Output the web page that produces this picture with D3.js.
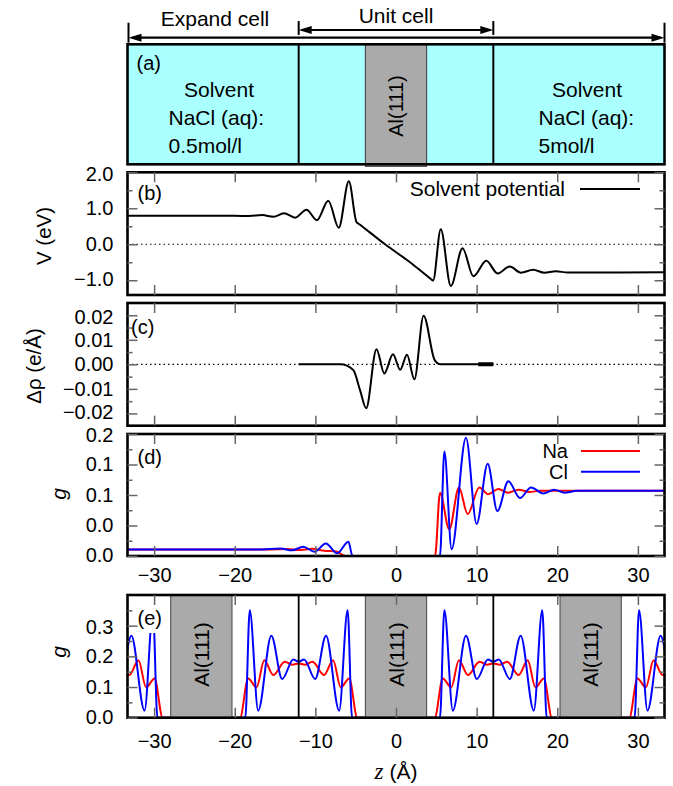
<!DOCTYPE html>
<html>
<head>
<meta charset="utf-8">
<script src="https://cdnjs.cloudflare.com/ajax/libs/d3/7.8.5/d3.min.js"></script>
<style>
	body { margin: 0; background: #fff; }
	text { font-family: "Liberation Sans", Arial, Helvetica, sans-serif; fill: #000; }
	.frame { fill: none; stroke: #000; stroke-width: 2.6px; }
	.zero { stroke: #000; stroke-width: 1.2px; stroke-dasharray: 1.5,3; }
	.curve { fill: none; stroke-width: 2px; }
</style>
</head>
<body>
<script>

var width = 673,
	height = 786;

// z axis, Angstrom
var zDomain = [-33.3, 33.3];
var zTicks = [-30, -20, -10, 0, 10, 20, 30];
var cellEdges = [-12.07, 12.07];
var slabEdges = [-3.8, 3.8];
var slabCentres = [-24.14, 0, 24.14];

// (a) cell drawing
var leftSolvent = ["Solvent", "NaCl (aq):", "0.5mol/l"];
var rightSolvent = ["Solvent", "NaCl (aq):", "5mol/l"];

// (b) solvent potential V (eV)
var vPoints = [
	[-33.3, 0.79], [-20.0, 0.79], [-18.2, 0.785], [-16.6, 0.81], [-15.2, 0.765],
	[-13.9, 0.86], [-12.5, 0.74], [-11.1, 0.96], [-9.8, 0.67], [-8.4, 1.21],
	[-7.1, 0.46], [-5.85, 1.75], [-4.9, 0.62], [-4.5, 0.551], [-1.36, 0.0], [1.74, -0.5],
	[4.25, -0.95], [4.6, -1.01], [5.55, 0.42], [6.8, -1.16], [8.25, -0.11], [9.6, -0.89],
	[11.2, -0.46], [12.6, -0.81], [14.1, -0.62], [15.5, -0.79], [17.0, -0.71],
	[18.4, -0.79], [19.8, -0.75], [21.3, -0.785], [33.3, -0.78]
];

// (c) charge difference (e/A)
var drhoPoints = [
	[-12.07, 0], [-6.9, 0], [-5.3, -0.0023], [-4.47, -0.0104], [-3.7, -0.0179],
	[-2.42, 0.0062], [-1.45, -0.0037], [-0.38, 0.0041], [0.52, -0.0022], [1.36, 0.0039],
	[2.28, -0.0061], [3.42, 0.0198], [4.8, 0.0017], [5.5, 0], [12.07, 0]
];
var drhoTail = [10.2, 12.07];

// (d) distribution across the expanded cell
var naPoints = [
	[-33.3, 0.0085], [-16, 0.0085], [-13.4, 0.0092], [-12.1, 0.0078], [-10.4, 0.0095],
	[-8.9, 0.0068], [-7.4, 0.006], [-6.3, 0], [4.84, 0], [5.46, 0.083], [6.6, 0.035],
	[7.81, 0.09], [8.89, 0.055], [10.33, 0.09], [11.45, 0.081], [12.7, 0.088],
	[13.9, 0.083], [15.2, 0.087], [16.5, 0.084], [18, 0.0855], [33.3, 0.0855]
];
var clPoints = [
	[-33.3, 0.0085], [-17, 0.0085], [-14.3, 0.0098], [-12.9, 0.0075], [-11.5, 0.0121],
	[-10.1, 0.0056], [-8.7, 0.0165], [-7.3, 0.0035], [-5.9, 0.0187], [-5.4, 0],
	[5.45, 0], [6.0, 0.137], [6.9, 0.009], [8.68, 0.155], [10.0, 0.042], [11.37, 0.121],
	[12.57, 0.059], [13.93, 0.098], [15.38, 0.076], [16.74, 0.09], [18.27, 0.082],
	[19.6, 0.087], [20.9, 0.083], [22.5, 0.0855], [33.3, 0.0855]
];

// (e) periodic cell: profile from slab surface to cell edge
var naHalf = [
	[3.8, 0], [4.8, 0], [5.8, 0.128], [6.85, 0.099], [7.8, 0.187], [8.92, 0.139],
	[10.35, 0.182], [11.3, 0.173], [12.07, 0.177]
];
var clHalf = [
	[3.8, 0], [5.45, 0], [6.0, 0.35], [7.05, 0.023], [8.68, 0.267], [10.02, 0.126],
	[11.4, 0.19], [12.07, 0.182]
];

var sans = "'Liberation Sans', Arial, Helvetica, sans-serif";
var serif = "'Liberation Serif', 'DejaVu Serif', serif";

var x = d3.scaleLinear().domain(zDomain).range([127.5, 664.5]);

var svg = d3.select("body").append("svg")
	.attr("width", width)
	.attr("height", height);

var line = function(y) {
	return d3.line()
		.x(function(d) { return x(d[0]); })
		.y(function(d) { return y(d[1]); })
		.curve(d3.curveMonotoneX);
};

// ---------- (a) ----------
var aTop = 44.3, aBot = 164.3;

svg.append("rect")
	.attr("x", x.range()[0]).attr("y", aTop)
	.attr("width", x.range()[1] - x.range()[0]).attr("height", aBot - aTop)
	.attr("fill", "#aaffff");
svg.append("rect")
	.attr("x", x(slabEdges[0])).attr("y", aTop)
	.attr("width", x(slabEdges[1]) - x(slabEdges[0])).attr("height", aBot - aTop + 2)
	.attr("fill", "#aaaaaa").attr("stroke", "#333").attr("stroke-width", 1);
svg.selectAll(".adiv").data(cellEdges).enter().append("line")
	.attr("x1", function(d) { return x(d); }).attr("x2", function(d) { return x(d); })
	.attr("y1", aTop).attr("y2", aBot)
	.attr("stroke", "#000").attr("stroke-width", 2);
svg.append("rect").attr("class", "frame")
	.attr("x", x.range()[0]).attr("y", aTop)
	.attr("width", x.range()[1] - x.range()[0]).attr("height", aBot - aTop);

svg.append("text").attr("x", 136.5).attr("y", 70).attr("font-size", 20).text("(a)");
svg.append("text").attr("x", x(0)).attr("y", 106)
	.attr("transform", "rotate(-90," + x(0) + ",106)")
	.attr("text-anchor", "middle").attr("dominant-baseline", "central")
	.attr("font-size", 20).text("Al(111)");

function solventText(lines, x0, xc) {
	var ys = [97, 125, 153];
	lines.forEach(function(t, i) {
		svg.append("text")
			.attr("x", i === 0 ? xc : x0).attr("y", ys[i])
			.attr("text-anchor", i === 0 ? "middle" : "start")
			.attr("font-size", 21).text(t);
	});
}
solventText(leftSolvent, 168.5, 219);
solventText(rightSolvent, 538.5, 587);

// arrows
function arrow(x1, x2, y, t1, t2) {
	svg.append("line").attr("x1", x1 + 4).attr("x2", x2 - 4).attr("y1", y).attr("y2", y)
		.attr("stroke", "#000").attr("stroke-width", 2.2);
	svg.append("path").attr("d", "M" + x1 + "," + y + "L" + (x1 + 13) + "," + (y - 4) + "L" + (x1 + 13) + "," + (y + 4) + "Z");
	svg.append("path").attr("d", "M" + x2 + "," + y + "L" + (x2 - 13) + "," + (y - 4) + "L" + (x2 - 13) + "," + (y + 4) + "Z");
	[x1, x2].forEach(function(xx) {
		svg.append("line").attr("x1", xx).attr("x2", xx).attr("y1", t1).attr("y2", t2)
			.attr("stroke", "#000").attr("stroke-width", 2);
	});
}
arrow(x.range()[0] + 1, x.range()[1], 37.7, 22.7, 42.7);
arrow(x(cellEdges[0]), x(cellEdges[1]), 30, 21, 35);
svg.append("text").attr("x", 215).attr("y", 26).attr("text-anchor", "middle").attr("font-size", 21).text("Expand cell");
svg.append("text").attr("x", x(0)).attr("y", 23).attr("text-anchor", "middle").attr("font-size", 21).text("Unit cell");

// ---------- plot panels ----------
function panel(o) {
	var y = d3.scaleLinear().domain(o.domain).range([o.bottom, o.top]);
	var g = svg.append("g");
	var id = "clip" + o.name;
	svg.append("clipPath").attr("id", id).append("rect")
		.attr("x", x.range()[0]).attr("y", o.top)
		.attr("width", x.range()[1] - x.range()[0]).attr("height", o.bottom - o.top);
	var plot = g.append("g").attr("clip-path", "url(#" + id + ")");
	o.y = y; o.g = g; o.plot = plot;
	return o;
}

function finishPanel(o) {
	var g = o.g, y = o.y;
	g.append("rect").attr("class", "frame")
		.attr("x", x.range()[0]).attr("y", o.top)
		.attr("width", x.range()[1] - x.range()[0]).attr("height", o.bottom - o.top);

	var axes = [
		g.append("g").attr("transform", "translate(" + x.range()[0] + ",0)")
			.call(d3.axisLeft(y).tickValues(o.majors).tickFormat(d3.format(o.fmt)).tickSizeInner(-10).tickSizeOuter(0).tickPadding(14)),
		g.append("g").attr("transform", "translate(" + x.range()[0] + ",0)")
			.call(d3.axisLeft(y).tickValues(o.minors).tickFormat("").tickSizeInner(-5).tickSizeOuter(0)),
		g.append("g").attr("transform", "translate(" + x.range()[1] + ",0)")
			.call(d3.axisRight(y).tickValues(o.majors).tickFormat("").tickSizeInner(-10).tickSizeOuter(0)),
		g.append("g").attr("transform", "translate(" + x.range()[1] + ",0)")
			.call(d3.axisRight(y).tickValues(o.minors).tickFormat("").tickSizeInner(-5).tickSizeOuter(0)),
		g.append("g").attr("transform", "translate(0," + o.bottom + ")")
			.call(d3.axisBottom(x).tickValues(zTicks).tickFormat(o.xLabels ? d3.format("d") : "").tickSizeInner(-10).tickSizeOuter(0).tickPadding(o.xPad || 12)),
		g.append("g").attr("transform", "translate(0," + o.top + ")")
			.call(d3.axisTop(x).tickValues(zTicks).tickFormat("").tickSizeInner(-10).tickSizeOuter(0))
	];
	axes.forEach(function(a) {
		a.attr("font-size", 20).attr("font-family", sans);
		a.select(".domain").remove();
		a.selectAll(".tick line").attr("stroke", "#666").attr("stroke-width", 1.5);
		a.selectAll(".tick text").attr("fill", "#000");
		a.selectAll(".tick text").filter(function() { return this.textContent === ""; }).remove();
	});
	// nudge the end labels so neighbouring panels' labels stay apart
	axes[0].selectAll(".tick text")
		.attr("y", function(d) { return d === o.majors[0] ? -1 : (d === o.majors[o.majors.length - 1] ? 1.5 : 0); });

	g.append("text").attr("x", o.lx).attr("y", o.ly).attr("font-size", 20).text(o.label);
}

function yTitle(txt, cx, cy, italic) {
	var t = svg.append("text")
		.attr("x", cx).attr("y", cy)
		.attr("transform", "rotate(-90," + cx + "," + cy + ")")
		.attr("text-anchor", "middle").attr("dominant-baseline", "central")
		.attr("font-size", italic ? 21 : 20.5)
		.text(txt);
	if (italic) t.attr("font-family", serif).attr("font-style", "italic");
}

// (b)
var pb = panel({ name: "b", top: 172.3, bottom: 295, domain: [-1.41, 2.0],
	majors: [-1, 0, 1, 2], minors: [-0.5, 0.5, 1.5], fmt: ".1f", label: "(b)", lx: 137.5, ly: 199.5 });
pb.plot.append("line").attr("class", "zero")
	.attr("x1", x.range()[0]).attr("x2", x.range()[1]).attr("y1", pb.y(0)).attr("y2", pb.y(0));
pb.plot.append("path").attr("class", "curve").attr("stroke", "#000")
	.attr("d", line(pb.y)(vPoints));
pb.g.append("text").attr("x", 565).attr("y", 196).attr("text-anchor", "end").attr("font-size", 21).text("Solvent potential");
pb.g.append("line").attr("x1", 580).attr("x2", 640).attr("y1", 189).attr("y2", 189).attr("stroke", "#000").attr("stroke-width", 2);
finishPanel(pb);
yTitle("V (eV)", 43, 236);

// (c)
var pc = panel({ name: "c", top: 303, bottom: 425.7, domain: [-0.025, 0.025],
	majors: [-0.02, -0.01, 0, 0.01, 0.02], minors: [-0.015, -0.005, 0.005, 0.015], fmt: ".2f", label: "(c)", lx: 131, ly: 334 });
pc.plot.append("line").attr("class", "zero")
	.attr("x1", x.range()[0]).attr("x2", x.range()[1]).attr("y1", pc.y(0)).attr("y2", pc.y(0));
pc.plot.append("path").attr("class", "curve").attr("stroke", "#000")
	.attr("d", line(pc.y)(drhoPoints));
pc.plot.append("line").attr("x1", x(drhoTail[0])).attr("x2", x(drhoTail[1]))
	.attr("y1", pc.y(0)).attr("y2", pc.y(0)).attr("stroke", "#000").attr("stroke-width", 4);
finishPanel(pc);
yTitle("\u0394\u03c1 (e/\u00c5)", 33, 366);

// (d)
var pd = panel({ name: "d", top: 434, bottom: 556, domain: [0, 0.16],
	majors: [0, 0.04, 0.08, 0.12, 0.16], minors: [0.02, 0.06, 0.1, 0.14], fmt: ".1f", label: "(d)", lx: 137.5, ly: 464,
	xLabels: true, xPad: 12 });
pd.plot.append("path").attr("class", "curve").attr("stroke", "#ff0000").attr("d", line(pd.y)(naPoints));
pd.plot.append("path").attr("class", "curve").attr("stroke", "#0000ff").attr("d", line(pd.y)(clPoints));
[["Na", "#ff0000", 451], ["Cl", "#0000ff", 471.7]].forEach(function(k) {
	pd.g.append("text").attr("x", 568).attr("y", k[2] + 7).attr("text-anchor", "end").attr("font-size", 20).text(k[0]);
	pd.g.append("line").attr("x1", 581).attr("x2", 640).attr("y1", k[2]).attr("y2", k[2]).attr("stroke", k[1]).attr("stroke-width", 2);
});
finishPanel(pd);
yTitle("g", 58, 494, true);

// (e)
var period = cellEdges[1] - cellEdges[0];
function periodic(half) {
	var segs = [];
	[-2, -1, 0, 1].forEach(function(k) {
		var c = k * period;
		var right = half.map(function(p) { return [c + p[0], p[1]]; });
		var left = half.slice(0, -1).reverse().map(function(p) { return [c + period - p[0], p[1]]; });
		segs.push(right.concat(left));
	});
	return segs;
}
var pe = panel({ name: "e", top: 595, bottom: 717.7, domain: [0, 0.4],
	majors: [0, 0.1, 0.2, 0.3], minors: [0.05, 0.15, 0.25, 0.35], fmt: ".1f", label: "(e)", lx: 137.5, ly: 624.5,
	xLabels: true, xPad: 16.5 });
pe.plot.selectAll(".na").data(periodic(naHalf)).enter().append("path")
	.attr("class", "curve").attr("stroke", "#ff0000").attr("d", line(pe.y));
pe.plot.selectAll(".cl").data(periodic(clHalf)).enter().append("path")
	.attr("class", "curve").attr("stroke", "#0000ff").attr("d", line(pe.y));
pe.plot.selectAll(".slab").data(slabCentres).enter().append("rect")
	.attr("x", function(d) { return x(d + slabEdges[0]); }).attr("y", pe.top)
	.attr("width", x(slabEdges[1]) - x(slabEdges[0])).attr("height", pe.bottom - pe.top)
	.attr("fill", "#aaaaaa").attr("stroke", "#444").attr("stroke-width", 1);
pe.plot.selectAll(".edge").data(cellEdges).enter().append("line")
	.attr("x1", function(d) { return x(d); }).attr("x2", function(d) { return x(d); })
	.attr("y1", pe.top).attr("y2", pe.bottom).attr("stroke", "#000").attr("stroke-width", 1.8);
pe.plot.selectAll(".al").data(slabCentres).enter().append("text")
	.attr("x", function(d) { return x(d); }).attr("y", 654.5)
	.attr("transform", function(d) { return "rotate(-90," + x(d) + ",654.5)"; })
	.attr("text-anchor", "middle").attr("dominant-baseline", "central")
	.attr("font-size", 21).text("Al(111)");
pe.g.append("rect").attr("x", 134).attr("y", 606).attr("width", 30).attr("height", 27).attr("fill", "#fff");
finishPanel(pe);
yTitle("g", 58, 652, true);

// x title
var xt = svg.append("text").attr("x", x(0)).attr("y", 779).attr("text-anchor", "middle").attr("font-size", 21);
xt.append("tspan").attr("font-family", serif).attr("font-style", "italic").attr("font-size", 23).text("z");
xt.append("tspan").text(" (\u00c5)");

</script>
</body>
</html>
